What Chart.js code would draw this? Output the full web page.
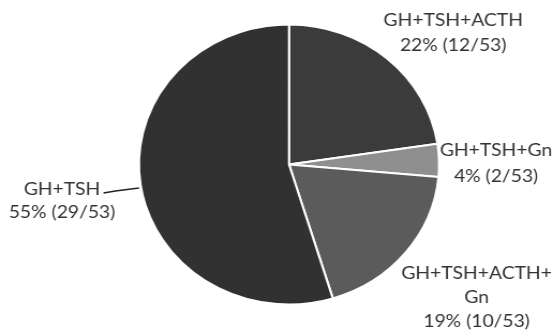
<!DOCTYPE html>
<html>
<head>
<meta charset="utf-8">
<script src="https://cdn.jsdelivr.net/npm/chart.js@4/dist/chart.umd.min.js"></script>
<style>
  html, body { margin: 0; padding: 0; background: #fff; overflow: hidden; }
  /* the source picture is a little wider than it is tall, so stretch the canvas */
  #pie { display: block; transform: scaleX(1.0717); transform-origin: 0 0; }
</style>
</head>
<body>
<canvas id="pie" width="516" height="332"></canvas>
<script>
// counts per hormone deficiency combination (n = 53)
const categories = ['GH+TSH+ACTH', 'GH+TSH+Gn', 'GH+TSH+ACTH+Gn', 'GH+TSH']
const counts = [12, 2, 10, 29]
const total = 53
const percentLabels = ['22%', '4%', '19%', '55%']
const sliceColors = ['#3b3b3b', '#8f8f8f', '#5b5b5b', '#313131']

// label text lines for each slice
const labelLines = [
  [categories[0], percentLabels[0] + ' (' + counts[0] + '/' + total + ')'],
  [categories[1], percentLabels[1] + ' (' + counts[1] + '/' + total + ')'],
  ['GH+TSH+ACTH+', 'Gn', percentLabels[2] + ' (' + counts[2] + '/' + total + ')'],
  [categories[3], percentLabels[3] + ' (' + counts[3] + '/' + total + ')']
]

// where each label sits, in radius units from the pie centre (first line)
const labelAnchors = [
  { ax: 1.094, ay: -1.03, lh: 25 },
  { ax: 1.38, ay: -0.10, lh: 26 },
  { ax: 1.25, ay: 0.775, lh: 24 },
  { ax: -1.513, ay: 0.175, lh: 23, leader: true }
]

const outsideLabels = {
  id: 'outsideLabels',
  afterDraw (chart) {
    const ctx = chart.ctx
    const arc = chart.getDatasetMeta(0).data[0]
    const cx = arc.x
    const cy = arc.y
    const r = arc.outerRadius
    ctx.save()
    ctx.font = '18px Lato'
    ctx.fillStyle = '#333333'
    ctx.textAlign = 'center'
    ctx.textBaseline = 'middle'
    labelLines.forEach((lines, i) => {
      const a = labelAnchors[i]
      const x = cx + a.ax * r
      const y = cy + a.ay * r
      lines.forEach((t, j) => ctx.fillText(t, x, y + j * a.lh))
      if (a.leader) {
        const w = ctx.measureText(lines[0]).width
        const sx = x + w / 2 + 3
        const sy = y + 4
        const ey = y - 1
        const ex = cx - Math.sqrt(r * r - (ey - cy) * (ey - cy)) - 2
        ctx.strokeStyle = '#222'
        ctx.lineWidth = 1.5
        ctx.beginPath()
        ctx.moveTo(sx, sy)
        ctx.lineTo(sx + 11, sy - 2)
        ctx.lineTo(ex, ey)
        ctx.stroke()
      }
    })
    ctx.restore()
  }
}

new Chart(document.getElementById('pie'), {
  type: 'pie',
  data: {
    labels: categories,
    datasets: [{
      data: counts,
      backgroundColor: sliceColors,
      borderColor: '#ffffff',
      borderWidth: 2
    }]
  },
  options: {
    responsive: false,
    animation: false,
    layout: { padding: { top: 23.5, bottom: 26.5, left: 128.7, right: 105.3 } },
    plugins: {
      legend: { display: false },
      tooltip: { enabled: false }
    }
  },
  plugins: [outsideLabels]
})
</script>
</body>
</html>
